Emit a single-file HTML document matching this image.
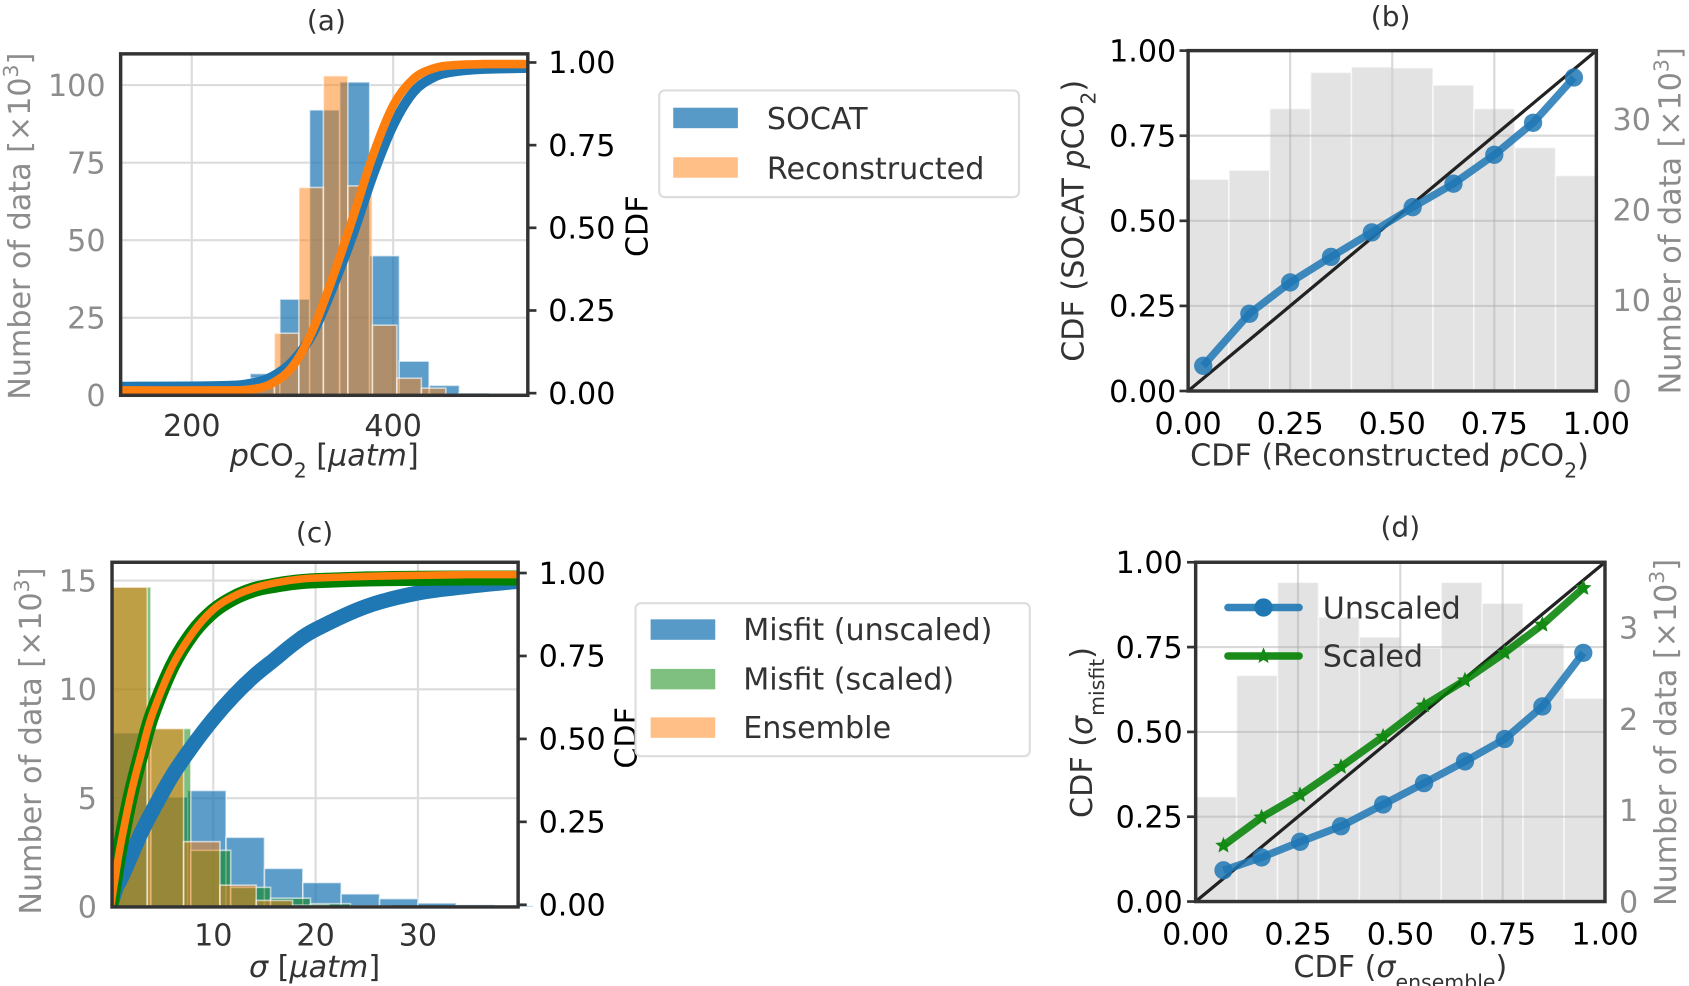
<!DOCTYPE html>
<html><head><meta charset="utf-8">
<style>
html,body{margin:0;padding:0;background:#fff;}
svg{display:block;font-family:"DejaVu Sans","Liberation Sans",sans-serif;}
</style></head>
<body>
<svg id="fig" width="1689" height="986" viewBox="0 0 1568 915.4" preserveAspectRatio="none" xmlns="http://www.w3.org/2000/svg">
<defs>
  <clipPath id="clipA"><rect x="112" y="50" width="378" height="317"/></clipPath>
  <clipPath id="clipC"><rect x="104" y="522" width="377" height="320"/></clipPath>
</defs>
<g id="pa"></g>
<g id="pb"></g>
<g id="pc"></g>
<g id="pd"></g>
<g id="static" font-size="28" fill="#333">
  <text x="303" y="28" text-anchor="middle" font-size="26">(a)</text>
  <text x="1291" y="24" text-anchor="middle" font-size="26">(b)</text>
  <text x="292" y="503" text-anchor="middle" font-size="26">(c)</text>
  <text x="1300" y="498" text-anchor="middle" font-size="26">(d)</text>

  <text transform="translate(28,210) rotate(-90)" text-anchor="middle" fill="#8c8c8c">Number of data [×10<tspan baseline-shift="super" font-size="19">3</tspan>]</text>
  <text transform="translate(601,210) rotate(-90)" text-anchor="middle" fill="#000">CDF</text>
  <text x="301" y="432" text-anchor="middle"><tspan font-style="italic">p</tspan>CO<tspan baseline-shift="sub" font-size="19">2</tspan> [<tspan font-style="italic">μatm</tspan>]</text>

  <text transform="translate(1006,205) rotate(-90)" text-anchor="middle">CDF (SOCAT <tspan font-style="italic">p</tspan>CO<tspan baseline-shift="sub" font-size="19">2</tspan>)</text>
  <text transform="translate(1560,205) rotate(-90)" text-anchor="middle" fill="#8c8c8c">Number of data [×10<tspan baseline-shift="super" font-size="19">3</tspan>]</text>
  <text x="1290" y="432" text-anchor="middle">CDF (Reconstructed <tspan font-style="italic">p</tspan>CO<tspan baseline-shift="sub" font-size="19">2</tspan>)</text>

  <text transform="translate(38,688) rotate(-90)" text-anchor="middle" fill="#8c8c8c">Number of data [×10<tspan baseline-shift="super" font-size="19">3</tspan>]</text>
  <text transform="translate(591,685) rotate(-90)" text-anchor="middle" fill="#000">CDF</text>
  <text x="292" y="907" text-anchor="middle"><tspan font-style="italic">σ</tspan> [<tspan font-style="italic">μatm</tspan>]</text>

  <text transform="translate(1014,680) rotate(-90)" text-anchor="middle">CDF (<tspan font-style="italic">σ</tspan><tspan baseline-shift="sub" font-size="19">misfit</tspan>)</text>
  <text transform="translate(1556,680) rotate(-90)" text-anchor="middle" fill="#8c8c8c">Number of data [×10<tspan baseline-shift="super" font-size="19">3</tspan>]</text>
  <text x="1300" y="907" text-anchor="middle">CDF (<tspan font-style="italic">σ</tspan><tspan baseline-shift="sub" font-size="19">ensemble</tspan>)</text>

  <g>
    <rect x="612" y="84" width="334" height="99" rx="5" fill="#fff" fill-opacity="0.8" stroke="#ddd" stroke-width="2"/>
    <rect x="625" y="100" width="60" height="19" fill="#1f77b4" fill-opacity="0.75"/>
    <text x="712" y="120">SOCAT</text>
    <rect x="625" y="146" width="60" height="19" fill="#ff7f0e" fill-opacity="0.5"/>
    <text x="712" y="166">Reconstructed</text>
  </g>
  <g>
    <rect x="590" y="560" width="366" height="142" rx="5" fill="#fff" fill-opacity="0.8" stroke="#ddd" stroke-width="2"/>
    <rect x="604" y="575" width="60" height="19" fill="#1f77b4" fill-opacity="0.75"/>
    <text x="690" y="594">Misfit (unscaled)</text>
    <rect x="604" y="621" width="60" height="19" fill="#008000" fill-opacity="0.5"/>
    <text x="690" y="640">Misfit (scaled)</text>
    <rect x="604" y="666" width="60" height="19" fill="#ff7f0e" fill-opacity="0.5"/>
    <text x="690" y="685">Ensemble</text>
  </g>
</g>
</svg>
<script>
// ---------- panel (a) data ----------
const aBlueEdges = [258, 287.5, 317, 347, 376.5, 406, 436, 465.5];
const aBlueCounts = [7, 31, 92, 101, 45, 11, 3.2, 0.7];
const aBlueWidth = 29.7;
const aOrangeEdges = [258, 282, 306.4, 330.7, 355, 379.4, 403.7, 428];
const aOrangeCounts = [5.5, 20, 67, 103, 67.5, 22.6, 5.5, 2.3];
const aOrangeWidth = 24.3;
const aCdfX = [130, 230, 260, 280, 300, 320, 340, 360, 380, 400, 420, 440, 460, 490, 534];
const aCdfBlue = [0.02, 0.022, 0.03, 0.05, 0.095, 0.18, 0.32, 0.48, 0.66, 0.81, 0.91, 0.955, 0.972, 0.98, 0.983];
const aCdfOrange = [0.008, 0.008, 0.012, 0.03, 0.08, 0.19, 0.35, 0.53, 0.72, 0.87, 0.95, 0.982, 0.992, 0.995, 0.995];
const aXTicks = [200, 400];
const aYTicks = [0, 25, 50, 75, 100];
const cdfTicks = [0, 0.25, 0.5, 0.75, 1.0];
const cdfTickLabels = ["0.00", "0.25", "0.50", "0.75", "1.00"];

// ---------- panel (b) data ----------
const bBinLeft = [0, 0.1, 0.2, 0.3, 0.4, 0.5, 0.6, 0.7, 0.8, 0.9];
const bCounts = [23.4, 24.4, 31.2, 35.2, 35.8, 35.7, 33.8, 31.2, 26.9, 23.8];
const bPtX = [0.037, 0.15, 0.25, 0.35, 0.45, 0.55, 0.65, 0.75, 0.845, 0.945];
const bPtY = [0.074, 0.227, 0.319, 0.394, 0.466, 0.540, 0.609, 0.694, 0.788, 0.921];
const bRightTicks = [0, 10, 20, 30];

// ---------- panel (c) data ----------
const cBlueCounts = [8, 5.05, 5.35, 3.2, 1.77, 1.12, 0.6, 0.38, 0.18, 0.1, 0.05];
const cBlueWidth = 3.75;
const cGreenCounts = [14.7, 8.2, 2.6, 0.9, 0.4, 0.15, 0.05];
const cGreenWidth = 3.9;
const cOrangeCounts = [14.7, 8.2, 3.0, 1.0, 0.3, 0.08];
const cOrangeWidth = 3.55;
const cCdfX = [0, 0.5, 1, 2, 3, 4, 6, 8, 10, 12, 14, 16, 18, 20, 25, 30, 35, 39.8];
const cCdfBlue = [0, 0.05, 0.08, 0.15, 0.22, 0.28, 0.39, 0.48, 0.56, 0.63, 0.69, 0.74, 0.79, 0.83, 0.9, 0.94, 0.96, 0.975];
const cCdfGreen = [0, 0.1, 0.19, 0.34, 0.46, 0.57, 0.72, 0.82, 0.885, 0.925, 0.95, 0.963, 0.972, 0.977, 0.982, 0.984, 0.985, 0.985];
const cCdfOrange = [0, 0.1, 0.19, 0.34, 0.46, 0.57, 0.72, 0.82, 0.89, 0.93, 0.955, 0.97, 0.98, 0.985, 0.99, 0.993, 0.995, 0.995];
const cXTicks = [10, 20, 30];
const cYTicks = [0, 5, 10, 15];

// ---------- panel (d) data ----------
const dBinLeft = [0, 0.1, 0.2, 0.3, 0.4, 0.5, 0.6, 0.7, 0.8, 0.9];
const dCounts = [1.15, 2.48, 3.5, 3.12, 2.9, 2.78, 3.5, 3.27, 2.83, 2.23];
const dPtX = [0.068, 0.161, 0.255, 0.355, 0.458, 0.558, 0.658, 0.755, 0.847, 0.947];
const dUnscaled = [0.092, 0.13, 0.176, 0.222, 0.286, 0.349, 0.413, 0.479, 0.575, 0.733];
const dScaled = [0.165, 0.248, 0.314, 0.397, 0.486, 0.578, 0.652, 0.733, 0.816, 0.924];
const dRightTicks = [0, 1, 2, 3];
const unitTicks = [0, 0.25, 0.5, 0.75, 1.0];

const NS = "http://www.w3.org/2000/svg";
function mk(tag, parent, attrs) {
  const e = document.createElementNS(NS, tag);
  for (const k in attrs) e.setAttribute(k, attrs[k]);
  parent.appendChild(e);
  return e;
}
function lin(d0, d1, r0, r1) { return v => r0 + (v - d0) * (r1 - r0) / (d1 - d0); }
function txt(parent, x, y, s, anchor, fill) {
  const t = mk("text", parent, {x: x, y: y, "text-anchor": anchor, fill: fill, "font-size": 28});
  t.textContent = s;
  return t;
}
function pts(xs, ys, sx, sy) { return xs.map((v, i) => sx(v).toFixed(1) + "," + sy(ys[i]).toFixed(1)).join(" "); }
function smoothPath(xs, ys, sx, sy) {
  const P = xs.map((v, i) => [sx(v), sy(ys[i])]);
  let d = "M" + P[0][0].toFixed(1) + "," + P[0][1].toFixed(1);
  for (let i = 0; i < P.length - 1; i++) {
    const p0 = P[Math.max(0, i - 1)], p1 = P[i], p2 = P[i + 1], p3 = P[Math.min(P.length - 1, i + 2)];
    const c1 = [p1[0] + (p2[0] - p0[0]) / 6, p1[1] + (p2[1] - p0[1]) / 6];
    const c2 = [p2[0] - (p3[0] - p1[0]) / 6, p2[1] - (p3[1] - p1[1]) / 6];
    d += " C" + c1[0].toFixed(1) + "," + c1[1].toFixed(1) + " " + c2[0].toFixed(1) + "," + c2[1].toFixed(1) + " " + p2[0].toFixed(1) + "," + p2[1].toFixed(1);
  }
  return d;
}

function frame(g, L, R, T, B) {
  const f = mk("rect", g, {x: L, y: T, width: R - L, height: B - T, fill: "none", stroke: "#333", "stroke-width": 3.2});
  
  
}
function grid(g, L, R, T, B, xs, ys, color) {
  xs.forEach(x => {
    const l = mk("line", g, {x1: x, x2: x, y1: T, y2: B, stroke: color, "stroke-width": 2});
    
    
  });
  ys.forEach(y => {
    const l = mk("line", g, {x1: L, x2: R, y1: y, y2: y, stroke: color, "stroke-width": 2});
    
    
  });
}
function tickMark(g, x1, y1, x2, y2) {
  const l = mk("line", g, {x1: x1, y1: y1, x2: x2, y2: y2, stroke: "#333", "stroke-width": 2.5});
  
  
}
function bars(g, edges, counts, width, sx, sy, fill, op, name) {
  counts.forEach((c, i) => {
    const x0 = sx(edges[i]), x1 = sx(edges[i] + width);
    const r = mk("rect", g, {x: x0, y: sy(c), width: x1 - x0, height: sy(0) - sy(c), fill: fill, "fill-opacity": op, stroke: "#fff", "stroke-opacity": 0.6, "stroke-width": 1.5});
    
    
  });
}
function line(g, xs, ys, sx, sy, color, w, name) {
  const p = mk("polyline", g, {points: pts(xs, ys, sx, sy), fill: "none", stroke: color, "stroke-width": w, "stroke-linejoin": "round", "stroke-linecap": "butt"});
  
  
  return p;
}
function curve(g, xs, ys, sx, sy, color, w, name) {
  const p = mk("path", g, {d: smoothPath(xs, ys, sx, sy), fill: "none", stroke: color, "stroke-width": w, "stroke-linejoin": "round"});
  
  
  return p;
}
function star(g, cx, cy, r, color) {
  let s = [];
  for (let k = 0; k < 10; k++) {
    const a = -Math.PI / 2 + k * Math.PI / 5, rr = k % 2 ? r * 0.45 : r;
    s.push((cx + rr * Math.cos(a)).toFixed(1) + "," + (cy + rr * Math.sin(a)).toFixed(1));
  }
  return mk("polygon", g, {points: s.join(" "), fill: color});
}

// ================= PANEL A =================
(function () {
  const g = document.getElementById("pa");
  const L = 112, R = 490, T = 50, B = 367;
  const sx = lin(200, 400, 178, 365), sy = lin(0, 100, 367, 79), sc = lin(0, 1, 365, 58);
  grid(g, L, R, T, B, aXTicks.map(sx), aYTicks.map(sy), "#dcdcdc");
  bars(g, aBlueEdges, aBlueCounts, aBlueWidth, sx, sy, "#1f77b4", 0.72, "hist-socat");
  bars(g, aOrangeEdges, aOrangeCounts, aOrangeWidth, sx, sy, "#ff7f0e", 0.5, "hist-reconstructed");
  const cg = mk("g", g, {"clip-path": "url(#clipA)"});
  
  
  curve(cg, aCdfX, aCdfBlue, sx, sc, "#1f77b4", 9, "cdf-socat");
  curve(cg, aCdfX, aCdfOrange, sx, sc, "#ff7f0e", 8, "cdf-reconstructed");
  frame(g, L, R, T, B);
  aXTicks.forEach(v => { const t = txt(g, sx(v), 405, String(v), "middle", "#333");
    
     });
  aYTicks.forEach(v => { const t = txt(g, 98, sy(v) + 10, String(v), "end", "#8c8c8c");
    
     });
  cdfTicks.forEach((v, i) => { tickMark(g, R, sc(v), R + 8, sc(v));
    const t = txt(g, 509, sc(v) + 10, cdfTickLabels[i], "start", "#000");
    
     });
})();

// ================= PANEL B =================
(function () {
  const g = document.getElementById("pb");
  const L = 1103, R = 1482, T = 47, B = 363;
  const sx = lin(0, 1, L, R), sy = lin(0, 1, B, T), sr = lin(0, 37.6, B, T);
  bars(g, bBinLeft, bCounts, 0.1, sx, sr, "#d9d9d9", 0.75, "hist-count-b");
  grid(g, L, R, T, B, [0.25, 0.5, 0.75].map(sx), [0.25, 0.5, 0.75].map(sy), "rgba(170,170,170,0.45)");
  const d = mk("line", g, {x1: sx(0), y1: sy(0), x2: sx(1), y2: sy(1), stroke: "#222", "stroke-width": 3});
  
  
  line(g, bPtX, bPtY, sx, sy, "#1f77b4", 7, "qq-line-b").setAttribute("stroke-opacity", "0.85");
  bPtX.forEach((v, i) => {
    const c = mk("circle", g, {cx: sx(v), cy: sy(bPtY[i]), r: 8.5, fill: "#1f77b4", "fill-opacity": 0.85});
    
    
  });
  frame(g, L, R, T, B);
  unitTicks.forEach((v, i) => {
    tickMark(g, L - 8, sy(v), L, sy(v));
    const t = txt(g, 1092, sy(v) + 10, cdfTickLabels[i], "end", "#000");
    
    
    const t2 = txt(g, sx(v), 403, cdfTickLabels[i], "middle", "#000");
    
    
  });
  bRightTicks.forEach(v => {
    const t = txt(g, 1497, sr(v) + 10, String(v), "start", "#8c8c8c");
    
    
  });
})();

// ================= PANEL C =================
(function () {
  const g = document.getElementById("pc");
  const L = 104, R = 481, T = 522, B = 842;
  const sx = lin(0, 10, 103, 198), sy = lin(0, 5, 842, 741), sc = lin(0, 1, 840, 532);
  grid(g, L, R, T, B, cXTicks.map(sx), cYTicks.map(sy), "#dcdcdc");
  const e = (w, n) => Array.from({length: n}, (_, i) => i * w);
  bars(g, e(cBlueWidth, cBlueCounts.length), cBlueCounts, cBlueWidth, sx, sy, "#1f77b4", 0.72, "hist-misfit-unscaled");
  bars(g, e(cGreenWidth, cGreenCounts.length), cGreenCounts, cGreenWidth, sx, sy, "#008000", 0.5, "hist-misfit-scaled");
  bars(g, e(cOrangeWidth, cOrangeCounts.length), cOrangeCounts, cOrangeWidth, sx, sy, "#ff7f0e", 0.5, "hist-ensemble");
  const cg = mk("g", g, {"clip-path": "url(#clipC)"});
  
  
  curve(cg, cCdfX, cCdfBlue, sx, sc, "#1f77b4", 14, "cdf-misfit-unscaled");
  curve(cg, cCdfX, cCdfGreen, sx, sc, "#008000", 14, "cdf-misfit-scaled");
  curve(cg, cCdfX, cCdfOrange, sx, sc, "#ff7f0e", 7, "cdf-ensemble");
  frame(g, L, R, T, B);
  cXTicks.forEach(v => { const t = txt(g, sx(v), 878, String(v), "middle", "#333");
    
     });
  cYTicks.forEach(v => { const t = txt(g, 90, sy(v) + 10, String(v), "end", "#8c8c8c");
    
     });
  cdfTicks.forEach((v, i) => { tickMark(g, R, sc(v), R + 8, sc(v));
    const t = txt(g, 500, sc(v) + 10, cdfTickLabels[i], "start", "#000");
    
     });
})();

// ================= PANEL D =================
(function () {
  const g = document.getElementById("pd");
  const L = 1110, R = 1490, T = 522, B = 837;
  const sx = lin(0, 1, L, R), sy = lin(0, 1, B, T), sr = lin(0, 3.72, B, T);
  bars(g, dBinLeft, dCounts, 0.1, sx, sr, "#d9d9d9", 0.75, "hist-count-d");
  grid(g, L, R, T, B, [0.25, 0.5, 0.75].map(sx), [0.25, 0.5, 0.75].map(sy), "rgba(170,170,170,0.45)");
  const d = mk("line", g, {x1: sx(0), y1: sy(0), x2: sx(1), y2: sy(1), stroke: "#222", "stroke-width": 3});
  
  
  line(g, dPtX, dUnscaled, sx, sy, "#1f77b4", 7, "qq-line-unscaled").setAttribute("stroke-opacity", "0.85");
  dPtX.forEach((v, i) => {
    const c = mk("circle", g, {cx: sx(v), cy: sy(dUnscaled[i]), r: 8.5, fill: "#1f77b4", "fill-opacity": 0.85});
    
    
  });
  line(g, dPtX, dScaled, sx, sy, "#008000", 7, "qq-line-scaled").setAttribute("stroke-opacity", "0.85");
  dPtX.forEach((v, i) => {
    const s = star(g, sx(v), sy(dScaled[i]), 8, "#138a13");
    
    
  });
  const lg = mk("g", g, {});
  
  
  mk("line", lg, {x1: 1140, y1: 564, x2: 1206, y2: 564, stroke: "#1f77b4", "stroke-width": 7, "stroke-linecap": "round", "stroke-opacity": 0.9});
  mk("circle", lg, {cx: 1173, cy: 564, r: 8.5, fill: "#1f77b4"});
  const t1 = txt(lg, 1228, 574, "Unscaled", "start", "#333");
  
  
  mk("line", lg, {x1: 1140, y1: 609, x2: 1206, y2: 609, stroke: "#008000", "stroke-width": 7, "stroke-linecap": "round", "stroke-opacity": 0.9});
  star(lg, 1173, 609, 8, "#138a13");
  const t2 = txt(lg, 1228, 619, "Scaled", "start", "#333");
  
  
  frame(g, L, R, T, B);
  unitTicks.forEach((v, i) => {
    tickMark(g, L - 8, sy(v), L, sy(v));
    const t = txt(g, 1098, sy(v) + 10, cdfTickLabels[i], "end", "#000");
    
    
    const t3 = txt(g, sx(v), 877, cdfTickLabels[i], "middle", "#000");
    
    
  });
  dRightTicks.forEach(v => {
    const t = txt(g, 1503, sr(v) + 10, String(v), "start", "#8c8c8c");
    
    
  });
})();
</script>
</body></html>
